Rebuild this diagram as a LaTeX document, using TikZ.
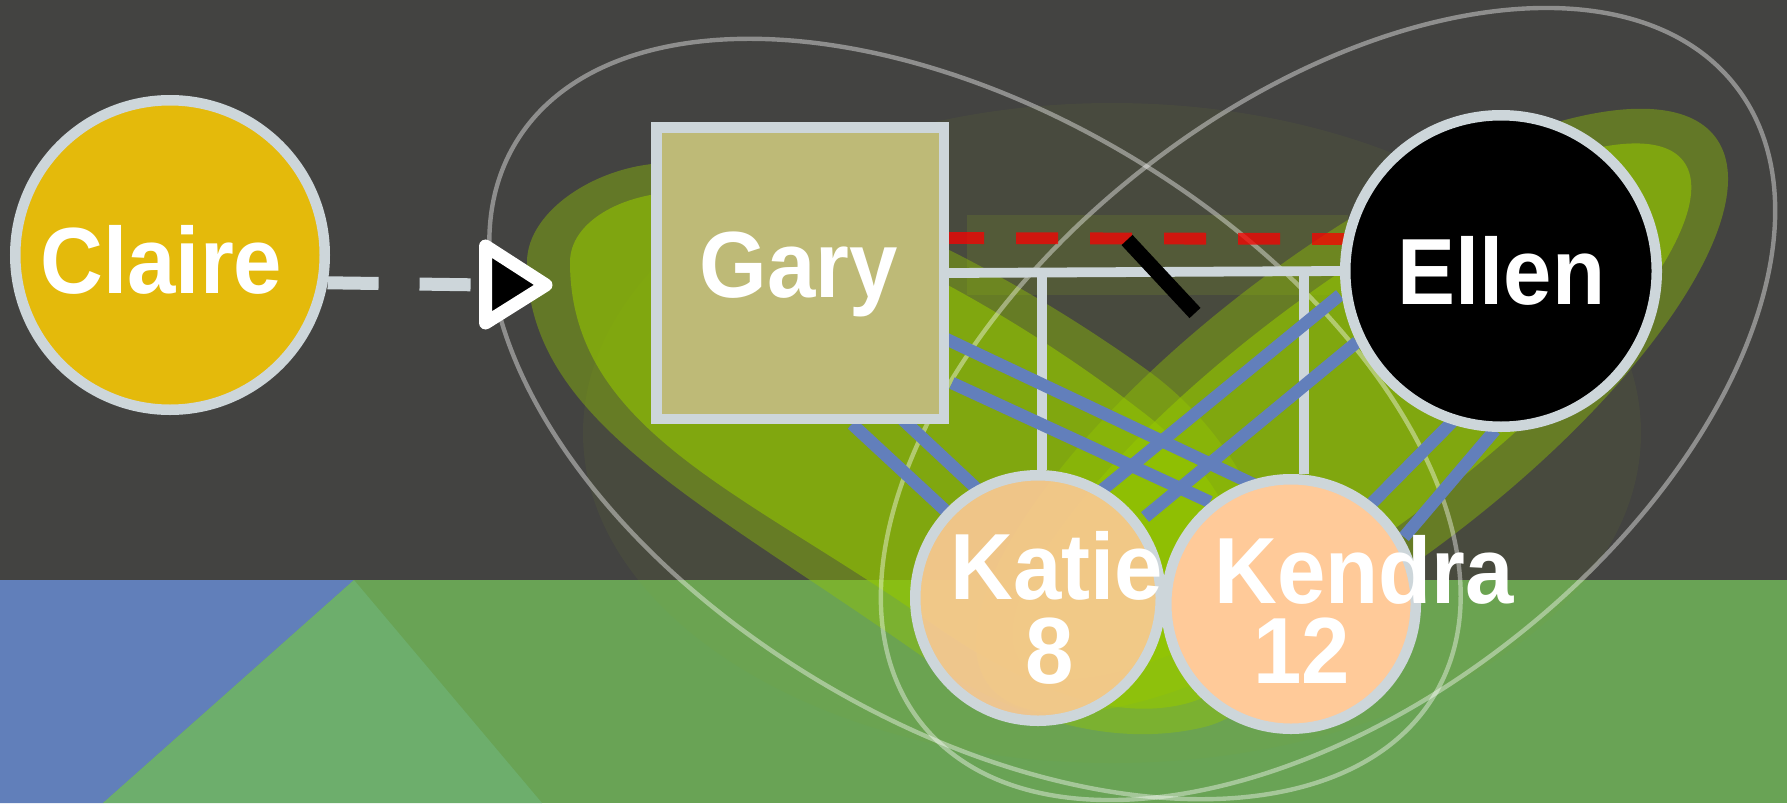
\documentclass[tikz,border=0pt]{standalone}
\usepackage{fontspec}
\newfontfamily\lblfont[FakeStretch=0.925]{Liberation Sans}
\pgfdeclarelayer{back}
\pgfdeclarelayer{mid}
\pgfsetlayers{back,mid,main}
\definecolor{bgdark}{HTML}{434341}
\definecolor{bandgreen}{HTML}{69A355}
\definecolor{bandblue}{HTML}{617FBA}
\definecolor{bandlight}{HTML}{6DAE6C}
\definecolor{blobcol}{HTML}{95C800}
\definecolor{tintcol}{HTML}{8AAA20}
\definecolor{bordercol}{HTML}{CDD6DA}
\definecolor{clairefill}{HTML}{E4BA0B}
\definecolor{garyfill}{HTML}{BEBA77}
\definecolor{kidfill}{HTML}{FFCA99}
\definecolor{relblue}{HTML}{627FBB}
\definecolor{sepred}{HTML}{FA0000}
\newcommand\tlab[3]{\raisebox{#2}[0pt][0pt]{\makebox[0pt]{\hspace*{#1}#3}}}
\begin{document}
\begin{tikzpicture}[x=0.5pt,y=-0.5pt,
  person/.style={draw=bordercol, line width=5.25pt, inner sep=0pt, text=white,
    font=\lblfont\bfseries\fontsize{47pt}{47pt}\selectfont},
  famline/.style={draw=bordercol, line width=4.9pt},
  relline/.style={draw=relblue, line width=6.25pt},
  sepline/.style={draw=sepred, draw opacity=0.75, line width=5.9pt, dash pattern=on 21pt off 16pt},
  cutline/.style={draw=black, line width=7.5pt},
  claireline/.style={draw=bordercol, line width=6.5pt, dash pattern=on 25.5pt off 20.5pt},
  tiphead/.style={draw=white, fill=black, line width=6.5pt, line join=round},
  outline/.style={draw=white, draw opacity=0.4, line width=2.2pt},
  blobout/.style={fill=blobcol, fill opacity=0.4},
  blobin/.style={fill=blobcol, fill opacity=0.57},
  tint/.style={fill=tintcol, fill opacity=#1}]
\useasboundingbox (0,0) rectangle (1787,803);

% persons
\node[person, circle, fill=clairefill, minimum size=154.75pt] (claire) at (170,255)
  {\tlab{-8.5pt}{-19pt}{Claire}};
\node[person, rectangle, fill=garyfill, minimum width=143.75pt, minimum height=145.75pt] (gary) at (800,273)
  {\tlab{-1pt}{-12pt}{Gary}};
\node[person, circle, fill=black, minimum size=155.75pt] (ellen) at (1501,271)
  {\tlab{0.5pt}{-16.5pt}{Ellen}};
\node[person, circle, fill=kidfill, fill opacity=0.88, text opacity=1, minimum size=122.75pt] (katie) at (1038,598)
  {\tlab{19pt}{-0.5pt}{Katie}\tlab{11.5pt}{-42.5pt}{8}};
\node[person, circle, fill=kidfill, minimum size=124.75pt] (kendra) at (1291,604)
  {\tlab{73pt}{0.5pt}{Kendra}\tlab{10.5pt}{-39.5pt}{12}};

\begin{pgfonlayer}{back}
  % ground
  \fill[bgdark] (0,0) rectangle (1787,580);
  \fill[bandgreen] (0,580) rectangle (1787,803);
  \fill[bandblue] (0,580) -- (354,580) -- (103,803) -- (0,803) -- cycle;
  \fill[bandlight] (354,580) -- (542,803) -- (103,803) -- cycle;
  % faint tints
  \fill[tint=0.07] (1112,433) ellipse [x radius=529, y radius=330];
  \fill[tint=0.17] (967,215) rectangle (1348,295);
  % blobs
  \fill[blobout] (527,262) .. controls (527,210) and (600,163) .. (670,163)
    .. controls (780,161) and (980,250) .. (1147,370)
    .. controls (1297,478) and (1330,700) .. (1200,728)
    .. controls (1110,748) and (1010,718) .. (923,657)
    .. controls (700,500) and (527,420) .. (527,262) -- cycle;
  \fill[blobout, rotate around={37:(1352,411)}] (1352,411) ellipse [x radius=455, y radius=160];
  \fill[blobin] (570,262) .. controls (570,222) and (622,193) .. (680,192)
    .. controls (780,190) and (985,290) .. (1140,410)
    .. controls (1265,503) and (1300,680) .. (1180,705)
    .. controls (1100,722) and (1010,678) .. (930,622)
    .. controls (745,492) and (570,430) .. (570,262) -- cycle;
  \fill[blobin, rotate around={37:(1352,411)}] (1352,411) ellipse [x radius=415, y radius=120];
  % group outlines
  \draw[outline, rotate around={-31:(975,419)}] (975,419) ellipse [x radius=536, y radius=305];
  \draw[outline, rotate around={38:(1328,404)}] (1328,404) ellipse [x radius=517, y radius=299];
\end{pgfonlayer}

\begin{pgfonlayer}{mid}
  % couple and children
  \coordinate (kidA) at (1042,273);
  \coordinate (kidB) at (1304,272);
  \draw[famline] (gary.east) -- (ellen.west);
  \draw[famline] (kidA) -- (kidA |- katie.north);
  \draw[famline] (kidB) -- (kidB |- kendra.north);
  % separation
  \draw[sepline] ([shift={(-7,-35)}]gary.east) -- ([shift={(8,-32)}]ellen.west);
  \coordinate (cutA) at (1127,240);
  \coordinate (cutB) at (1195,313);
  \draw[cutline] (cutA) -- (cutB);
  % close relations
  \draw[relline] ([shift={(52,151)}]gary.center) -- ([shift={(-91,-86)}]katie.center);
  \draw[relline] ([shift={(101,145)}]gary.center) -- ([shift={(-61,-109)}]katie.center);
  \draw[relline] ([shift={(142,64)}]gary.center) -- ([shift={(-36,-119)}]kendra.center);
  \draw[relline] ([shift={(152,110)}]gary.center) -- ([shift={(-81,-102)}]kendra.center);
  \draw[relline] ([shift={(-161,24)}]ellen.center) -- ([shift={(64,-108)}]katie.center);
  \draw[relline] ([shift={(-144,71)}]ellen.center) -- ([shift={(107,-81)}]katie.center);
  \draw[relline] ([shift={(-46,148)}]ellen.center) -- ([shift={(81,-101)}]kendra.center);
  \draw[relline] ([shift={(-6,159)}]ellen.center) -- ([shift={(113,-67)}]kendra.center);
  % Claire arrow
  \coordinate (atip) at (546,285);
  \draw[claireline] (claire.-10) -- ([shift={(-60.5,0)}]atip);
  \draw[tiphead] ([shift={(-60.5,-39)}]atip) -- (atip) -- ([shift={(-60.5,38)}]atip) -- cycle;
\end{pgfonlayer}
\end{tikzpicture}
\end{document}
